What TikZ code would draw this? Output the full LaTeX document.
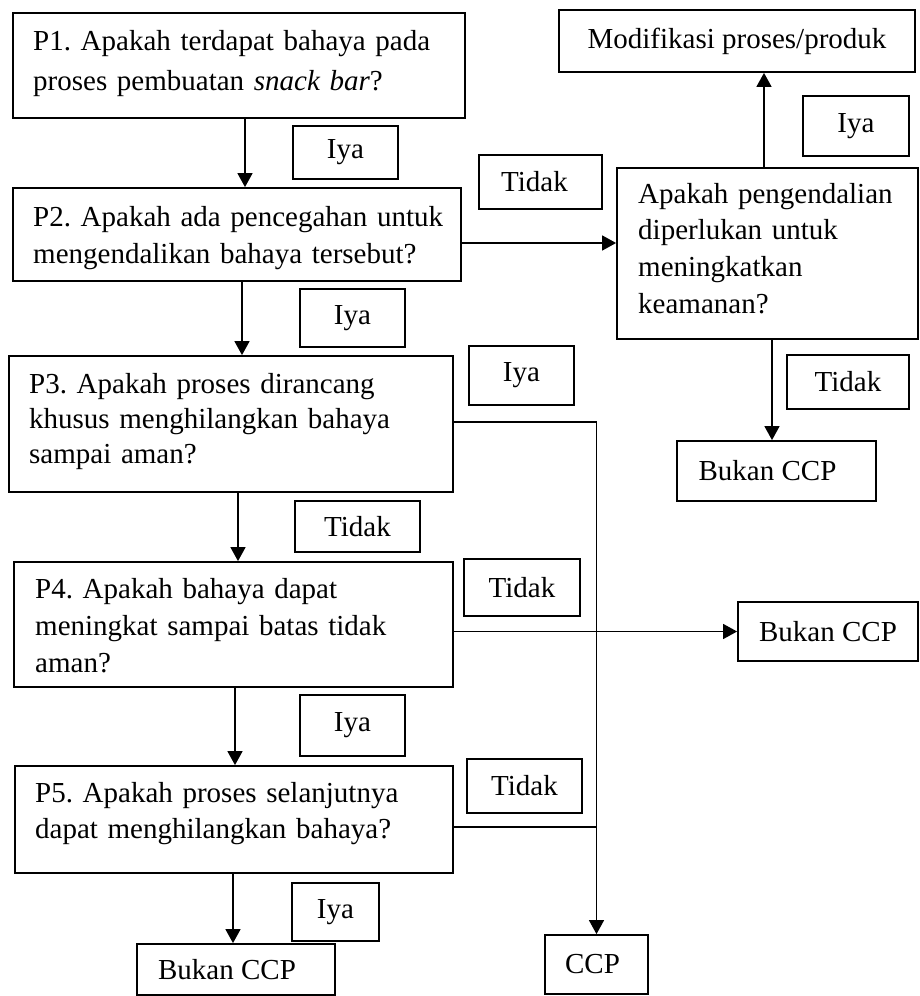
\documentclass[tikz,border=0pt]{standalone}
\usepackage{fontspec}
\setmainfont{Liberation Serif}
\usetikzlibrary{arrows.meta}
\frenchspacing

\tikzset{
  box/.style={draw, line width=1.8pt, inner sep=0pt, font=\fontsize{29}{37}\selectfont},
  qbox/.style={box},
  tag/.style={box, align=center},
  qtext/.style={inner sep=0pt, anchor=base west, align=left, text width=440pt,
    font=\fontsize{29}{#1}\selectfont},
  qtext/.default=37pt,
  arr/.style={line width=1.5pt, -{Triangle[width=15pt,length=14pt]}},
  link/.style={line width=1.5pt}
}

\begin{document}
\begin{tikzpicture}[x=1pt,y=-1pt]
\useasboundingbox (0,0) rectangle (920,996);

% question boxes
\node[qbox, minimum width=452pt, minimum height=105pt] (P1) at (239,65.5) {};
\node[qbox, minimum width=448pt, minimum height=93pt]  (P2) at (237,234.5) {};
\node[qbox, minimum width=301pt, minimum height=171pt] (Q)  at (767.5,253.5) {};
\node[qbox, minimum width=444pt, minimum height=136pt] (P3) at (231,424) {};
\node[qbox, minimum width=439pt, minimum height=125pt] (P4) at (233.5,624.5) {};
\node[qbox, minimum width=438pt, minimum height=107pt] (P5) at (234,819.5) {};

% question texts, placed by the baseline of their first line
\node[qtext=40pt] (P1t) at (33,50)
  {\mbox{P1. Apakah terdapat bahaya pada}\\\mbox{proses pembuatan \textit{snack bar}?}};
\node[qtext=36.6pt] (P2t) at (33,226.7)
  {\mbox{P2. Apakah ada pencegahan untuk}\\\mbox{mengendalikan bahaya tersebut?}};
\node[qtext=36.7pt] (Qt) at (638,203)
  {\mbox{Apakah pengendalian}\\\mbox{diperlukan untuk}\\\mbox{meningkatkan}\\\mbox{keamanan?}};
\node[qtext=35pt] (P3t) at (29,393)
  {\mbox{P3. Apakah proses dirancang}\\\mbox{khusus menghilangkan bahaya}\\\mbox{sampai aman?}};
\node[qtext=37pt] (P4t) at (35,598)
  {\mbox{P4. Apakah bahaya dapat}\\\mbox{meningkat sampai batas tidak}\\\mbox{aman?}};
\node[qtext=36pt] (P5t) at (35,802)
  {\mbox{P5. Apakah proses selanjutnya}\\\mbox{dapat menghilangkan bahaya?}};

% outcome boxes
\node[tag, minimum width=356pt, minimum height=62pt] (M) at (737,41) {Modifikasi proses/produk};
\node[tag, minimum width=199pt, minimum height=60pt] (B1) at (776.5,471) {Bukan CCP\hspace*{18pt}};
\node[tag, minimum width=180pt, minimum height=59pt] (B2) at (828,631.5) {Bukan CCP};
\node[tag, minimum width=198pt, minimum height=51pt] (B3) at (236,969.5) {Bukan CCP\hspace*{18pt}};
\node[tag, minimum width=103pt, minimum height=59pt] (CCP) at (596.5,964.5) {CCP\hspace*{8pt}};

% answer tags
\node[tag, minimum width=105pt, minimum height=53pt] (t1) at (345.5,152.5) {Iya};
\node[tag, minimum width=123pt, minimum height=54pt] (t2) at (540.5,182) {Tidak\hspace*{12pt}};
\node[tag, minimum width=106pt, minimum height=60pt] (t3) at (856,126) {Iya};
\node[tag, minimum width=105pt, minimum height=58pt] (t4) at (352.5,318) {Iya};
\node[tag, minimum width=105pt, minimum height=59pt] (t5) at (521.5,375.5) {Iya};
\node[tag, minimum width=122pt, minimum height=54pt] (t6) at (848,382) {Tidak};
\node[tag, minimum width=125pt, minimum height=51pt] (t7) at (357.5,526.5) {Tidak};
\node[tag, minimum width=116pt, minimum height=57pt] (t8) at (522,587.5) {Tidak};
\node[tag, minimum width=105pt, minimum height=61pt] (t9) at (352.5,725.5) {Iya};
\node[tag, minimum width=115pt, minimum height=54pt] (t10) at (524.5,786) {Tidak};
\node[tag, minimum width=87pt, minimum height=58pt] (t11) at (335.5,912) {Iya};

% connector start points
\coordinate (s1) at ([xshift=6pt]P1.south);
\coordinate (s2) at ([xshift=5pt]P2.south);
\coordinate (s3) at ([xshift=7pt]P3.south);
\coordinate (s4) at ([xshift=1.5pt]P4.south);
\coordinate (s5) at ([xshift=-1pt]P5.south);
\coordinate (s6) at ([yshift=-8.5pt]P2.east);
\coordinate (s7) at ([xshift=-3.5pt]Q.north);
\coordinate (s8) at ([xshift=4.5pt]Q.south);
\coordinate (s9) at ([yshift=2pt]P3.east);
\coordinate (s11) at ([yshift=-7.5pt]P5.east);

% main flow
\draw[arr] (s1) -- (s1 |- P2.north);
\draw[arr] (s2) -- (s2 |- P3.north);
\draw[arr] (s3) -- (s3 |- P4.north);
\draw[arr] (s4) -- (s4 |- P5.north);
\draw[arr] (s5) -- (s5 |- B3.north);

% side branches
\draw[arr] (s6) -- (s6 -| Q.west);
\draw[arr] (s7) -- (s7 |- M.south);
\draw[arr] (s8) -- (s8 |- B1.north);
\draw[arr] (B2.west -| P4.east) -- (B2.west);
\draw[arr] (s9) -| (CCP.north);
\draw[link] (s11) -- (s11 -| CCP.north);
\end{tikzpicture}
\end{document}
